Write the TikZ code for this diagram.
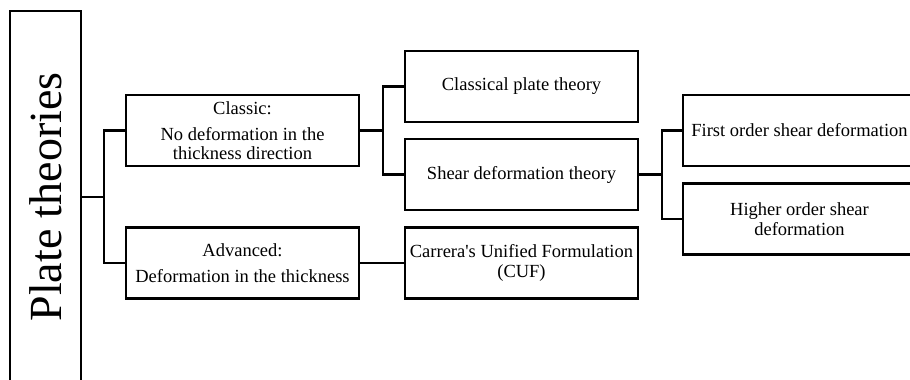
\documentclass[tikz,border=0pt]{standalone}
\usepackage{fontspec}
\setmainfont{Liberation Serif}
\usepackage{graphicx}
\usetikzlibrary{arrows.meta,positioning,calc}

\begin{document}
\begin{tikzpicture}[x=1pt,y=-1pt,>=Stealth,line width=2.2pt,
 font=\fontsize{18.5}{19.5}\selectfont,
 cell/.style={draw,minimum width=233pt,minimum height=71pt,inner sep=2pt,align=center}]
\useasboundingbox (0,0) rectangle (910,380);
\clip (0,0) rectangle (910,380);
\node[draw,minimum width=71pt,minimum height=372pt,inner sep=0pt,font=\fontsize{46}{48}\selectfont] (root) at (45.5,197) {\rotatebox{90}{Plate theories}};
\node[cell] (classic) at (242.5,130.5) {Classic:\\[6.5pt] No deformation in the\\ thickness direction};
\node[cell] (advanced) at (242.5,263) {Advanced:\\[6.5pt] Deformation in the thickness};
\node[cell] (cpt) at (521.5,86.5) {Classical plate theory};
\node[cell] (sdt) at (521.5,174.5) {Shear deformation theory};
\node[cell] (cuf) at (521.5,263) {Carrera\textquotesingle s Unified Formulation\\ (CUF)};
\node[cell] (fosd) at (799.5,130.5) {First order shear deformation};
\node[cell] (hosd) at (799.5,219) {Higher order shear\\ deformation};
\draw (root.east) -- ++(22,0) |- (classic.west);
\draw (root.east) -- ++(22,0) |- (advanced.west);
\draw (classic.east) -- ++(23,0) |- (cpt.west);
\draw (classic.east) -- ++(23,0) |- (sdt.west);
\draw (advanced.east) -- (cuf.west);
\draw (sdt.east) -- ++(23,0) |- (fosd.west);
\draw (sdt.east) -- ++(23,0) |- (hosd.west);
\end{tikzpicture}
\end{document}
